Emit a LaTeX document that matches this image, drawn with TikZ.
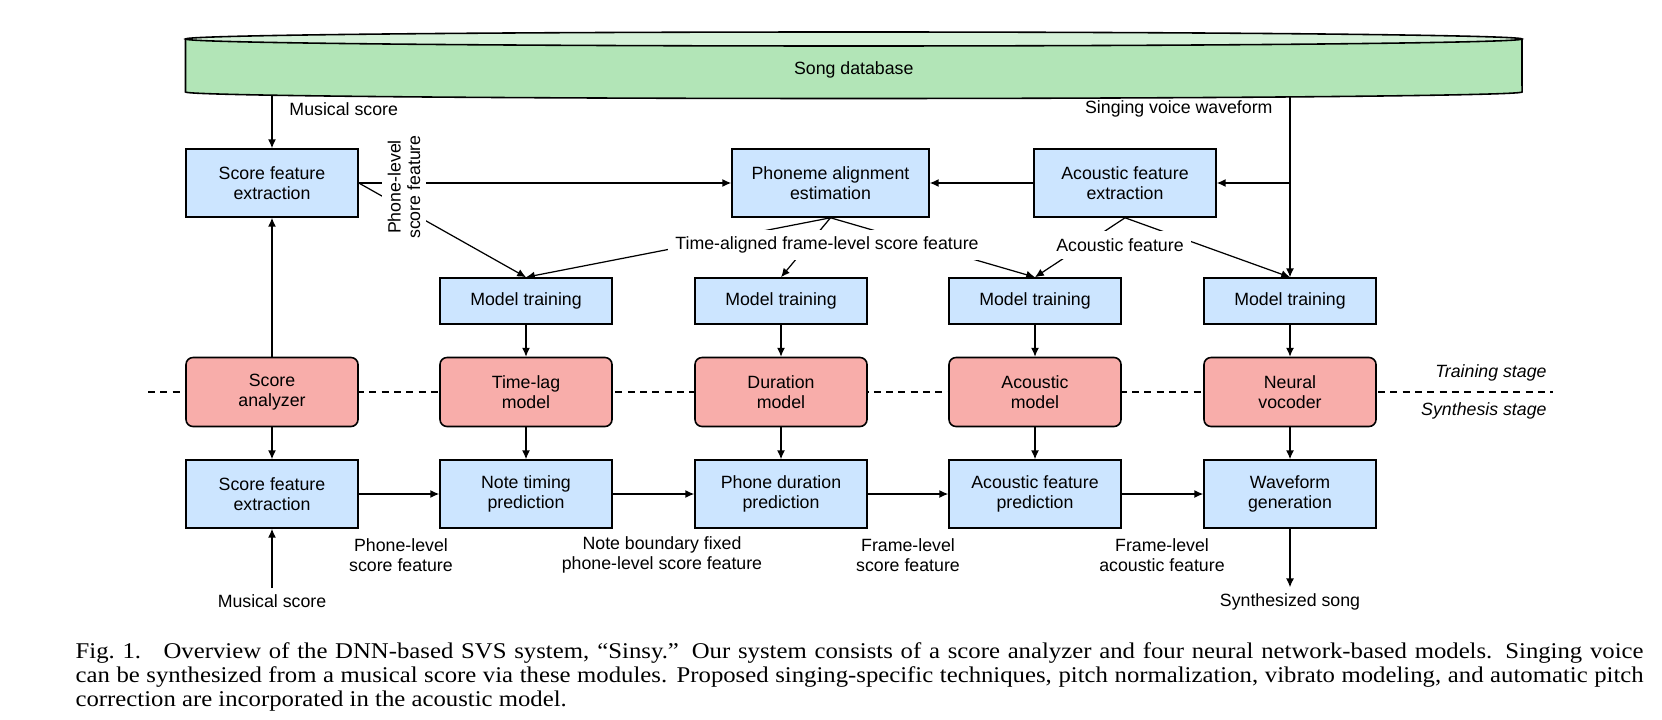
\documentclass[tikz,border=0pt]{standalone}
\usepackage{fontspec}
\setmainfont{Liberation Serif}
\newfontfamily\arialfont{Liberation Sans}
\newfontfamily\captionfont[FakeStretch=1.1]{Liberation Serif}
\usetikzlibrary{arrows.meta,positioning}
\newcommand\diagfont{\arialfont\fontsize{10.1}{11.2}\selectfont}
\definecolor{boxblue}{RGB}{204,229,255}
\definecolor{boxpink}{RGB}{248,173,170}
\definecolor{dbbody}{RGB}{178,229,183}
\definecolor{dbtop}{RGB}{213,241,216}

\begin{document}
\begin{tikzpicture}[>={Latex[length=5pt,width=4.5pt]},x=0.2mm,y=-0.2mm,line width=0.7pt,
  every node/.style={font=\diagfont},
  bluebox/.style={draw,fill=boxblue,line width=0.9pt,minimum width=3.44cm,
    minimum height=1.36cm,align=center,inner sep=2pt},
  trainbox/.style={bluebox,minimum height=0.92cm},
  modelbox/.style={draw,fill=boxpink,line width=0.9pt,rounded corners=4pt,
    minimum width=3.44cm,minimum height=1.38cm,align=center,inner sep=2pt},
  gaplabel/.style={fill=white,inner sep=4pt,align=center},
  caption/.style={anchor=north west,inner sep=0pt,text width=31.36cm,
    align=justify,font=\captionfont\fontsize{12.8}{13.6}\selectfont}]
  % Configurable parameters
  \def\colA{272}
  \def\colB{526}
  \def\colC{781}
  \def\colD{1035}
  \def\colE{1290}
  \def\rowTop{183}
  \def\rowTrain{301}
  \def\rowModel{392}
  \def\rowPred{494}
  %
  \useasboundingbox (0,0) rectangle (1662,720);
  %
  % Song database
  \fill[dbbody] (185.5,39) -- (185.5,92)
    arc[start angle=180,end angle=360,x radius=13.365cm,y radius=1.3mm]
    -- (1522,39) -- cycle;
  \draw[line width=0.9pt] (185.5,39) -- (185.5,92)
    arc[start angle=180,end angle=360,x radius=13.365cm,y radius=1.3mm]
    -- (1522,39);
  \draw[line width=0.9pt,fill=dbtop] (853.75,39) ellipse[x radius=13.365cm,y radius=1.4mm];
  \node (db) at (853.75,70) {Song database};
  \coordinate (scoreOut) at (\colA,95);
  \coordinate (waveOut) at (\colE,97);
  %
  % Stage line
  \draw[dashed,dash pattern=on 4pt off 3pt] (148,\rowModel) -- (1553,\rowModel);
  \node[anchor=east,font=\diagfont\itshape] (trainStage) at (1553,373) {Training stage};
  \node[anchor=east,font=\diagfont\itshape] (synthStage) at (1553,411) {Synthesis stage};
  %
  % Training boxes
  \node[bluebox] (sfeTop) at (\colA,\rowTop) {Score feature\\extraction};
  \node[bluebox,minimum width=3.94cm] (align) at (830.5,\rowTop) {Phoneme alignment\\estimation};
  \node[bluebox,minimum width=3.64cm] (afe) at (1125,\rowTop) {Acoustic feature\\extraction};
  \node[trainbox] (trainB) at (\colB,\rowTrain) {Model training};
  \node[trainbox] (trainC) at (\colC,\rowTrain) {Model training};
  \node[trainbox] (trainD) at (\colD,\rowTrain) {Model training};
  \node[trainbox] (trainE) at (\colE,\rowTrain) {Model training};
  %
  % Models
  \node[modelbox] (analyzer) at (\colA,\rowModel) {Score\\analyzer};
  \node[modelbox] (timelag) at (\colB,\rowModel) {Time-lag\\model};
  \node[modelbox] (duration) at (\colC,\rowModel) {Duration\\model};
  \node[modelbox] (acoustic) at (\colD,\rowModel) {Acoustic\\model};
  \node[modelbox] (vocoder) at (\colE,\rowModel) {Neural\\vocoder};
  %
  % Synthesis boxes
  \node[bluebox] (sfeBot) at (\colA,\rowPred) {Score feature\\extraction};
  \node[bluebox] (timing) at (\colB,\rowPred) {Note timing\\prediction};
  \node[bluebox] (phonedur) at (\colC,\rowPred) {Phone duration\\prediction};
  \node[bluebox] (afp) at (\colD,\rowPred) {Acoustic feature\\prediction};
  \node[bluebox] (wavegen) at (\colE,\rowPred) {Waveform\\generation};
  %
  % Training stage connectors
  \node[anchor=west] (scoreLbl) at (283,109) {Musical score};
  \node[anchor=east] (waveLbl) at (1279,109) {Singing voice waveform};
  \draw[->] (scoreOut) -- (sfeTop.north);
  \draw[->] (waveOut) -- (trainE.north);
  \draw[->] (waveOut |- afe.east) -- (afe.east);
  \draw[->] (afe.west) -- (align.east);
  \draw[->] (sfeTop.east) -- (align.west);
  \draw[->] (sfeTop.east) -- (trainB.north);
  \draw[->] (align.south) -- (trainB.north);
  \draw[->] (align.south) -- (trainC.north);
  \draw[->] (align.south) -- (trainD.north);
  \draw[->] (afe.south) -- (trainD.north);
  \draw[->] (afe.south) -- (trainE.north);
  \node[gaplabel,rotate=90,inner sep=3pt] (phoneLbl) at (404,187) {Phone-level\\score feature};
  \node[gaplabel] (timeLbl) at (827,245) {Time-aligned frame-level score feature};
  \node[gaplabel] (acfLbl) at (1120,245) {Acoustic feature};
  \foreach \m/\t in {trainB/timelag,trainC/duration,trainD/acoustic,trainE/vocoder}
    \draw[->] (\m.south) -- (\t.north);
  \draw[->] (analyzer.north) -- (sfeTop.south);
  %
  % Synthesis stage connectors
  \foreach \m/\t in {analyzer/sfeBot,timelag/timing,duration/phonedur,acoustic/afp,vocoder/wavegen}
    \draw[->] (\m.south) -- (\t.north);
  \draw[->] (sfeBot) -- (timing);
  \draw[->] (timing) -- (phonedur);
  \draw[->] (phonedur) -- (afp);
  \draw[->] (afp) -- (wavegen);
  \node[align=center] (lblA) at (401,555) {Phone-level\\score feature};
  \node[align=center] (lblB) at (662,555) {Note boundary fixed\\phone-level score feature};
  \node[align=center] (lblC) at (908,555) {Frame-level\\score feature};
  \node[align=center] (lblD) at (1162,555) {Frame-level\\acoustic feature};
  \node (scoreIn) at (\colA,601) {Musical score};
  \node (song) at (\colE,602) {Synthesized song};
  \draw[->] (scoreIn.north) -- (sfeBot.south);
  \draw[->] (wavegen.south) -- (song.north);
  %
  % Caption
  \node[caption] (cap) at (75,642) {Fig.~1.\quad Overview of the DNN-based SVS system, “Sinsy.” Our system consists of a score analyzer and four neural network-based models. Singing voice\linebreak can be synthesized from a musical score via these modules. Proposed singing-specific techniques, pitch normalization, vibrato modeling, and automatic pitch\linebreak correction are incorporated in the acoustic model.};
\end{tikzpicture}
\end{document}
